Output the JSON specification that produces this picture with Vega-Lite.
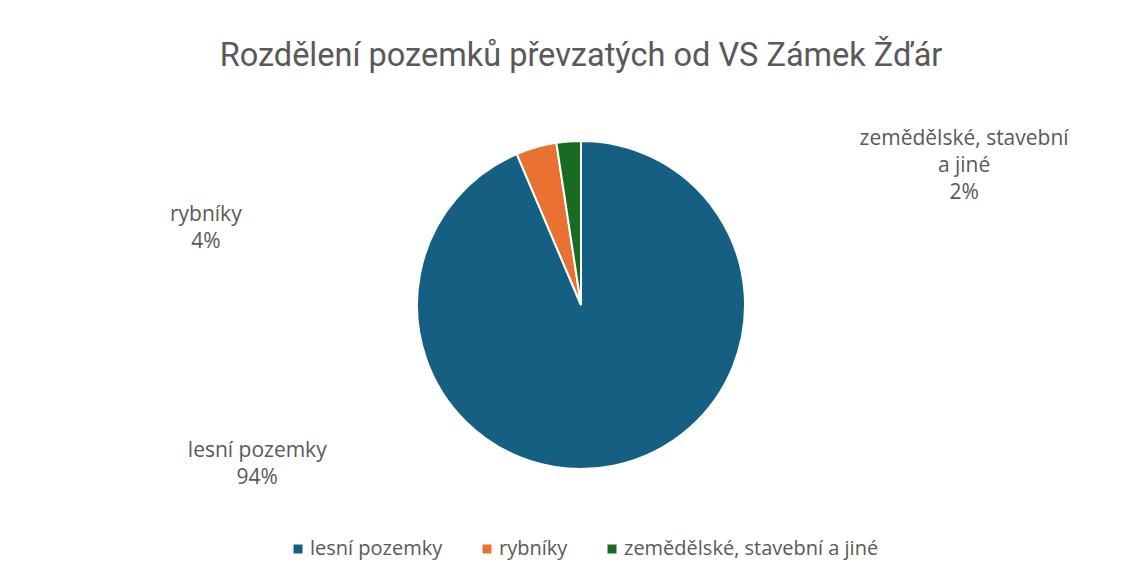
{
  "$schema": "https://vega.github.io/schema/vega-lite/v6.json",
  "autosize": {"type": "fit", "contains": "padding"},
  "width": 1138,
  "height": 584,
  "padding": {"left": 24, "right": 0, "top": 26, "bottom": 0},
  "background": "white",
  "config": {"view": {"stroke": null}},
  "title": {
    "text": "Rozdělení pozemků převzatých od VS Zámek Žďár",
    "font": "Roboto, sans-serif",
    "fontSize": 32.5,
    "fontWeight": "normal",
    "color": "#595959",
    "offset": -72,
    "baseline": "alphabetic",
    "anchor": "middle"
  },
  "data": {
    "values": [
      {"kategorie": "lesní pozemky", "podil": 93.6, "popisek": "lesní pozemky", "poradi": 1},
      {"kategorie": "rybníky", "podil": 4.0, "popisek": "rybníky", "poradi": 2},
      {"kategorie": "zemědělské, stavební a jiné", "podil": 2.4, "popisek": "zemědělské, stavební|a jiné", "poradi": 3}
    ]
  },
  "transform": [
    {"joinaggregate": [{"op": "sum", "field": "podil", "as": "celkem"}]},
    {"stack": "podil", "groupby": [], "sort": [{"field": "poradi", "order": "ascending"}], "as": ["t0", "t1"]},
    {"calculate": "(datum.t0 + datum.t1) / 2", "as": "stred"},
    {"calculate": "split(datum.popisek + '|' + format(datum.podil / datum.celkem, '.0%'), '|')", "as": "radky"}
  ],
  "layer": [
    {
      "mark": {"type": "arc", "outerRadius": 164, "stroke": "white", "strokeWidth": 2},
      "encoding": {
        "theta": {"field": "t0", "type": "quantitative", "scale": {"domain": [0, 100]}},
        "theta2": {"field": "t1"},
        "color": {
          "field": "kategorie",
          "type": "nominal",
          "scale": {
            "domain": ["lesní pozemky", "rybníky", "zemědělské, stavební a jiné"],
            "range": ["#156082", "#E97132", "#196B24"]
          },
          "legend": {
            "title": null,
            "orient": "none",
            "direction": "horizontal",
            "legendX": 264,
            "legendY": 513,
            "symbolType": "square",
            "symbolSize": 81,
            "symbolStrokeWidth": 0,
            "labelFont": "Open Sans",
            "labelFontSize": 20,
            "labelColor": "#595959",
            "labelOffset": 2,
            "columnPadding": 34,
            "labelLimit": 400
          }
        }
      }
    },
    {
      "transform": [{"filter": "datum.poradi == 1"}],
      "mark": {"type": "text", "radius": 359, "thetaOffset": 1.325, "dy": -9.5, "font": "Open Sans", "fontSize": 21, "color": "#595959", "lineHeight": 27, "align": "center", "baseline": "middle"},
      "encoding": {
        "theta": {"field": "stred", "type": "quantitative"},
        "text": {"field": "radky"}
      }
    },
    {
      "transform": [{"filter": "datum.poradi == 2"}],
      "mark": {"type": "text", "radius": 383, "thetaOffset": -1.092, "dy": -13.5, "font": "Open Sans", "fontSize": 21, "color": "#595959", "lineHeight": 27, "align": "center", "baseline": "middle"},
      "encoding": {
        "theta": {"field": "stred", "type": "quantitative"},
        "text": {"field": "radky"}
      }
    },
    {
      "transform": [{"filter": "datum.poradi == 3"}],
      "mark": {"type": "text", "radius": 408, "thetaOffset": 1.295, "dy": -26, "font": "Open Sans", "fontSize": 21, "color": "#595959", "lineHeight": 27, "align": "center", "baseline": "middle"},
      "encoding": {
        "theta": {"field": "stred", "type": "quantitative"},
        "text": {"field": "radky"}
      }
    }
  ]
}
